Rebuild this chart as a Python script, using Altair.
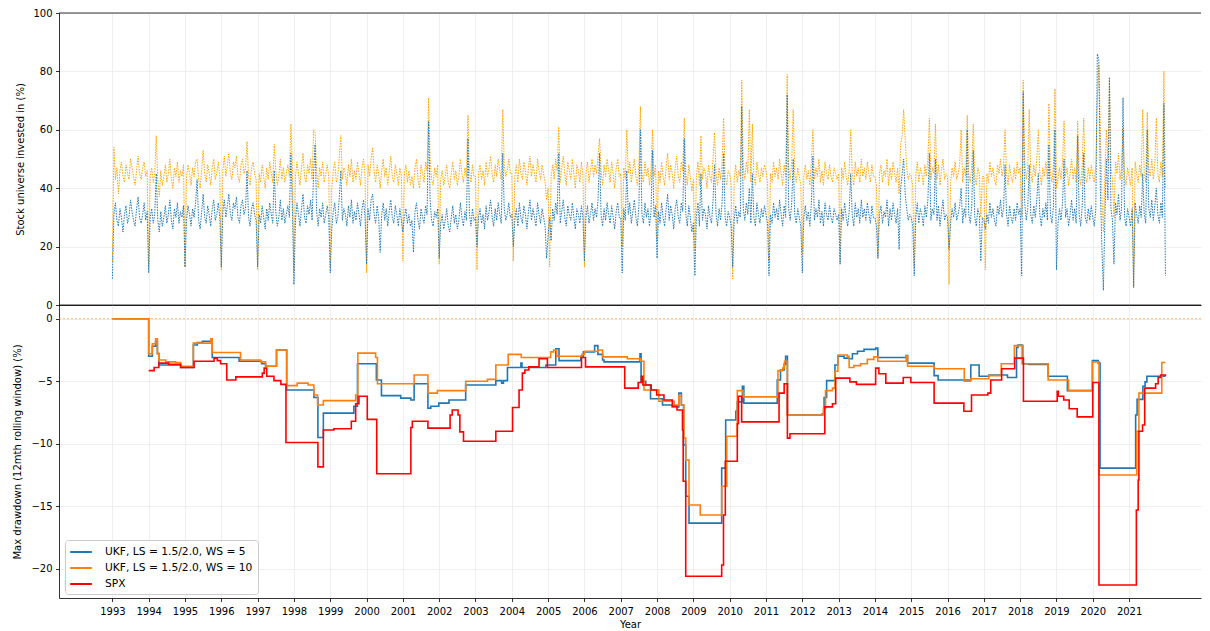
import altair as alt
import pandas as pd

FONT = "DejaVu Sans"
YEARS = list(range(1993, 2022))

# ---------------- top panel: share of stock universe invested (%), twice a month from Jan 1993 ----------------
invested_ws5 = [
    9, 31, 35, 29, 27, 33, 30, 25, 31, 34, 28, 30, 36, 32, 29, 27, 33, 37, 30, 28, 31, 35, 29, 32,   # 1993
    11, 30, 33, 28, 31, 45, 29, 25, 32, 27, 30, 34, 28, 31, 36, 29, 26, 33, 30, 35, 28, 32, 30, 34,  # 1994
    13, 29, 34, 31, 27, 33, 30, 35, 43, 29, 26, 32, 38, 30, 28, 34, 31, 27, 33, 36, 29, 31, 35, 30,  # 1995
    13, 32, 36, 30, 34, 38, 31, 29, 35, 33, 37, 30, 28, 34, 36, 31, 33, 46, 30, 27, 33, 35, 31, 29,  # 1996
    13, 31, 28, 34, 30, 26, 33, 29, 35, 31, 28, 46, 32, 27, 30, 36, 29, 33, 28, 31, 34, 30, 52, 33,  # 1997
    7, 29, 35, 31, 27, 33, 38, 30, 28, 34, 31, 36, 29, 45, 55, 32, 27, 33, 30, 35, 28, 31, 34, 30,   # 1998
    11, 26, 32, 35, 28, 30, 37, 46, 29, 33, 31, 27, 34, 30, 36, 28, 32, 29, 35, 31, 27, 33, 36, 30,  # 1999
    14, 33, 29, 36, 38, 31, 28, 34, 30, 18, 31, 35, 29, 33, 27, 32, 36, 30, 28, 34, 31, 27, 33, 29,  # 2000
    25, 30, 33, 28, 31, 27, 29, 18, 32, 35, 29, 26, 33, 30, 28, 34, 31, 63, 36, 29, 27, 32, 30, 33,  # 2001
    16, 28, 31, 26, 29, 33, 27, 25, 30, 34, 28, 31, 26, 29, 35, 30, 27, 32, 29, 57, 31, 27, 33, 29,  # 2002
    30, 20, 30, 33, 28, 31, 26, 34, 29, 32, 36, 30, 27, 33, 29, 35, 31, 28, 52, 33, 29, 31, 35, 30,  # 2003
    31, 20, 29, 33, 27, 35, 30, 28, 34, 31, 26, 32, 36, 29, 33, 30, 27, 35, 31, 28, 33, 30, 27, 16,  # 2004
    24, 30, 22, 33, 29, 35, 31, 52, 28, 32, 36, 30, 27, 34, 31, 29, 35, 30, 26, 33, 31, 28, 34, 30,  # 2005
    15, 30, 34, 28, 31, 35, 29, 33, 30, 36, 52, 31, 27, 33, 29, 35, 31, 28, 34, 30, 26, 32, 35, 30,  # 2006
    30, 11, 33, 29, 46, 31, 35, 28, 32, 36, 30, 27, 34, 60, 31, 28, 35, 30, 33, 27, 32, 53, 30, 34,  # 2007
    16, 32, 28, 35, 30, 27, 33, 38, 29, 34, 31, 26, 33, 36, 30, 28, 35, 32, 57, 31, 27, 34, 30, 25,  # 2008
    28, 10, 30, 35, 27, 45, 29, 33, 31, 26, 34, 30, 28, 36, 48, 31, 27, 33, 29, 35, 52, 30, 27, 32,  # 2009
    30, 27, 13, 29, 34, 28, 32, 30, 68, 33, 29, 35, 31, 40, 28, 45, 30, 27, 35, 31, 28, 33, 30, 34,  # 2010
    31, 28, 10, 31, 28, 35, 30, 33, 29, 36, 31, 27, 34, 30, 72, 33, 29, 35, 50, 31, 28, 33, 30, 27,  # 2011
    11, 30, 34, 29, 32, 27, 35, 51, 29, 33, 30, 36, 28, 32, 27, 35, 31, 29, 34, 30, 28, 33, 31, 29,  # 2012
    31, 14, 33, 29, 35, 30, 27, 32, 45, 31, 27, 35, 30, 33, 28, 36, 30, 33, 29, 35, 31, 28, 34, 30,  # 2013
    30, 27, 16, 31, 34, 28, 32, 30, 36, 27, 33, 29, 35, 31, 28, 33, 19, 40, 45, 50, 38, 33, 29, 31,  # 2014
    30, 27, 10, 30, 35, 28, 33, 31, 27, 34, 30, 36, 52, 29, 33, 31, 50, 29, 34, 27, 32, 36, 29, 31,  # 2015
    30, 19, 28, 33, 30, 35, 29, 31, 34, 40, 28, 33, 30, 60, 31, 28, 34, 53, 30, 27, 33, 31, 15, 30,  # 2016
    29, 26, 31, 28, 35, 30, 33, 29, 27, 34, 31, 36, 30, 33, 48, 31, 27, 34, 30, 28, 33, 29, 35, 31,  # 2017
    33, 10, 73, 35, 29, 33, 48, 31, 28, 34, 30, 36, 45, 31, 27, 33, 30, 35, 29, 55, 31, 28, 34, 60,  # 2018
    12, 28, 33, 29, 35, 50, 30, 33, 27, 31, 36, 29, 33, 28, 58, 31, 27, 34, 52, 30, 28, 33, 29, 34,  # 2019
    30, 27, 33, 86, 84, 40, 20, 5, 30, 50, 36, 78, 33, 29, 14, 35, 31, 38, 29, 33, 71, 30, 27, 33,   # 2020
    30, 27, 33, 6, 35, 31, 28, 34, 30, 45, 31, 28, 60, 33, 30, 36, 29, 34, 40, 31, 28, 35, 30, 69,   # 2021
    10,                                                                                              # 2022
]
invested_ws10 = [
    15, 54, 43, 47, 38, 46, 49, 44, 42, 48, 45, 43, 50, 47, 44, 41, 46, 51, 45, 43, 47, 49, 44, 46,  # 1993
    13, 44, 47, 42, 45, 58, 43, 37, 46, 41, 44, 48, 42, 45, 50, 43, 40, 47, 44, 49, 42, 46, 44, 48,  # 1994
    13, 44, 48, 45, 41, 47, 44, 49, 50, 43, 40, 46, 53, 45, 42, 48, 45, 41, 47, 50, 43, 45, 49, 44,  # 1995
    12, 46, 51, 44, 48, 52, 45, 43, 49, 47, 51, 44, 42, 48, 50, 45, 47, 56, 44, 41, 47, 49, 45, 43,  # 1996
    12, 45, 42, 48, 44, 40, 47, 43, 49, 45, 42, 55, 46, 41, 44, 50, 43, 47, 42, 45, 48, 44, 62, 47,  # 1997
    11, 44, 49, 45, 41, 47, 52, 44, 42, 48, 45, 50, 43, 60, 59, 46, 40, 47, 44, 49, 42, 45, 48, 44,  # 1998
    13, 40, 46, 49, 42, 44, 51, 58, 43, 47, 45, 41, 48, 44, 50, 42, 46, 43, 49, 45, 41, 47, 50, 44,  # 1999
    11, 48, 44, 50, 54, 46, 42, 48, 45, 40, 46, 50, 44, 47, 41, 46, 51, 44, 42, 48, 45, 41, 47, 44,  # 2000
    15, 45, 48, 42, 46, 41, 44, 40, 47, 50, 43, 40, 48, 45, 42, 49, 46, 71, 50, 43, 41, 47, 44, 48,  # 2001
    14, 43, 46, 41, 44, 48, 42, 40, 45, 49, 43, 46, 41, 44, 50, 45, 42, 47, 44, 65, 46, 42, 48, 44,  # 2002
    44, 12, 45, 48, 43, 46, 41, 49, 44, 47, 51, 45, 42, 48, 44, 50, 46, 43, 67, 48, 44, 46, 50, 45,  # 2003
    45, 15, 44, 48, 42, 50, 45, 43, 49, 46, 41, 47, 51, 44, 48, 45, 42, 50, 46, 43, 48, 45, 42, 36,  # 2004
    40, 13, 44, 48, 43, 50, 46, 61, 42, 47, 51, 45, 41, 49, 46, 43, 50, 45, 40, 48, 46, 42, 49, 45,  # 2005
    13, 45, 49, 42, 46, 50, 44, 48, 45, 51, 57, 46, 41, 48, 44, 50, 46, 42, 49, 45, 40, 47, 50, 44,  # 2006
    45, 20, 47, 43, 60, 45, 49, 42, 46, 50, 44, 41, 48, 68, 45, 42, 49, 44, 47, 41, 46, 60, 44, 48,  # 2007
    22, 46, 42, 49, 44, 41, 47, 52, 43, 48, 45, 40, 47, 51, 44, 42, 49, 46, 64, 45, 41, 48, 44, 39,  # 2008
    43, 19, 44, 49, 41, 58, 43, 47, 45, 40, 48, 44, 42, 50, 59, 45, 41, 47, 43, 49, 64, 44, 41, 46,  # 2009
    45, 41, 9, 43, 48, 42, 46, 44, 77, 47, 43, 49, 45, 67, 42, 62, 44, 41, 49, 45, 42, 47, 44, 48,   # 2010
    46, 42, 15, 45, 42, 49, 44, 47, 43, 50, 45, 41, 48, 44, 79, 47, 43, 49, 67, 45, 42, 47, 44, 41,  # 2011
    18, 44, 48, 43, 46, 41, 49, 60, 43, 47, 44, 50, 42, 46, 41, 49, 45, 43, 48, 44, 42, 47, 45, 43,  # 2012
    45, 14, 47, 43, 49, 44, 41, 46, 60, 45, 41, 49, 44, 47, 42, 50, 44, 47, 43, 49, 45, 42, 48, 44,  # 2013
    44, 41, 16, 45, 48, 42, 46, 44, 50, 41, 47, 43, 49, 45, 42, 47, 38, 55, 58, 67, 57, 47, 43, 45,  # 2014
    44, 41, 13, 44, 49, 42, 47, 45, 41, 48, 44, 50, 64, 43, 47, 45, 62, 43, 48, 41, 46, 50, 43, 45,  # 2015
    44, 7, 42, 47, 44, 49, 43, 45, 48, 60, 42, 47, 44, 65, 45, 42, 48, 62, 44, 41, 47, 45, 30, 44,   # 2016
    44, 12, 45, 42, 49, 44, 47, 43, 41, 48, 45, 50, 44, 47, 60, 45, 41, 48, 44, 42, 47, 43, 49, 45,  # 2017
    47, 30, 77, 49, 43, 47, 67, 45, 42, 48, 44, 50, 60, 45, 41, 47, 44, 49, 43, 69, 45, 42, 48, 74,  # 2018
    40, 43, 47, 43, 49, 63, 44, 47, 41, 45, 50, 43, 47, 42, 63, 45, 41, 48, 64, 44, 42, 47, 43, 48,  # 2019
    44, 42, 48, 70, 82, 60, 38, 25, 45, 60, 49, 77, 47, 43, 30, 49, 45, 52, 43, 47, 60, 44, 41, 47,  # 2020
    44, 41, 47, 6, 49, 45, 42, 48, 44, 67, 45, 42, 66, 47, 44, 50, 43, 48, 64, 45, 42, 49, 44, 80,   # 2021
    40,                                                                                              # 2022
]

# ---------------- bottom panel: 12-month rolling max drawdown (%), step series ----------------
ukf5_t = [1993.0, 1994.0, 1994.1, 1994.19, 1994.24, 1994.28, 1994.88, 1995.23, 1995.34, 1995.48,
          1995.75, 1996.49, 1997.11, 1997.22, 1997.52, 1997.8, 1998.55, 1998.66, 1998.81, 1999.65,
          1999.75, 2000.27, 2000.41, 2000.94, 2001.22, 2001.31, 2001.69, 2001.77, 2001.99, 2002.27,
          2002.73, 2003.56, 2003.72, 2003.77, 2003.88, 2004.25, 2004.28, 2004.94, 2005.21, 2005.3,
          2005.9, 2005.97, 2006.28, 2006.37, 2006.5, 2006.54, 2007.53, 2007.56, 2007.69, 2007.82,
          2008.15, 2008.42, 2008.6, 2008.67, 2008.73, 2008.79, 2008.88, 2009.78, 2009.89, 2010.17,
          2010.21, 2010.35, 2010.39, 2011.31, 2011.4, 2011.5, 2011.54, 2011.59, 2012.55, 2012.6,
          2012.67, 2012.9, 2012.98, 2013.15, 2013.29, 2013.38, 2013.52, 2013.7, 2014.02, 2014.08,
          2014.86, 2014.9, 2015.63, 2015.74, 2016.64, 2016.87, 2017.14, 2017.65, 2017.9, 2017.94,
          2018.06, 2018.24, 2018.77, 2019.3, 2019.99, 2020.15, 2020.2, 2021.18, 2021.22, 2021.38,
          2021.44, 2021.49, 2022.0]
ukf5_v = [0.0, -3.0, -2.2, -1.8, -2.8, -3.7, -3.9, -2.1, -1.9, -1.8,
          -3.1, -3.4, -3.6, -3.8, -2.5, -5.7, -6.3, -9.5, -7.55, -7.0,
          -3.6, -4.9, -6.15, -6.35, -6.5, -5.2, -7.15, -7.0, -6.75, -6.5,
          -5.3, -4.95, -5.15, -4.95, -3.9, -3.55, -3.9, -3.7, -2.4, -3.35,
          -3.0, -2.65, -2.15, -2.85, -3.3, -3.45, -2.8, -5.0, -5.3, -6.4,
          -6.9, -7.05, -5.95, -6.9, -10.1, -14.2, -16.35, -11.95, -8.1, -7.4,
          -6.65, -5.4, -6.75, -4.9, -4.1, -3.65, -3.0, -7.7, -7.6, -6.3,
          -4.95, -3.7, -3.0, -3.15, -3.2, -2.8, -2.6, -2.45, -2.35, -3.1,
          -2.95, -3.55, -4.55, -4.9, -3.7, -4.6, -4.5, -4.7, -2.3, -2.1,
          -3.6, -3.65, -4.6, -5.75, -3.35, -3.55, -11.95, -7.7, -6.45, -5.4,
          -5.05, -4.6, -4.6]

ukf10_t = [1993.0, 1994.0, 1994.1, 1994.19, 1994.24, 1994.28, 1994.47, 1994.74, 1994.88, 1995.23,
           1995.71, 1995.75, 1996.53, 1997.08, 1997.22, 1997.52, 1997.8, 1998.09, 1998.39, 1998.55,
           1998.65, 1998.81, 1999.7, 1999.76, 2000.25, 2000.3, 2001.31, 2001.69, 2001.95, 2002.73,
           2003.33, 2003.56, 2003.9, 2004.26, 2005.07, 2005.15, 2005.24, 2005.93, 2006.0, 2006.38,
           2006.5, 2007.18, 2007.55, 2007.64, 2008.05, 2008.47, 2008.6, 2008.67, 2008.74, 2008.79,
           2008.88, 2009.19, 2009.78, 2009.92, 2010.21, 2010.37, 2011.33, 2011.46, 2011.51, 2011.59,
           2012.58, 2012.64, 2012.83, 2012.9, 2012.98, 2013.24, 2013.29, 2013.42, 2013.61, 2013.79,
           2013.97, 2014.08, 2014.86, 2014.9, 2015.63, 2016.46, 2016.64, 2017.14, 2017.48, 2017.84,
           2018.08, 2018.77, 2019.33, 2019.99, 2020.17, 2021.21, 2021.27, 2021.9, 2022.0]
ukf10_v = [0.0, -2.8, -2.0, -1.6, -2.75, -3.3, -3.45, -3.5, -3.8, -1.95,
           -1.6, -2.7, -3.3, -3.45, -3.8, -2.5, -5.35, -5.15, -5.3, -6.1,
           -6.9, -6.55, -6.1, -2.75, -3.1, -5.2, -4.5, -5.95, -5.75, -5.0,
           -4.85, -3.7, -2.85, -3.1, -2.65, -2.5, -3.0, -2.85, -2.6, -2.5,
           -3.05, -3.2, -3.4, -5.7, -6.6, -6.9, -6.15, -6.9, -9.55, -11.3,
           -14.9, -15.7, -13.4, -9.4, -5.75, -6.25, -4.15, -3.95, -3.4, -7.7,
           -7.15, -5.75, -5.55, -4.2, -2.9, -3.0, -3.9, -3.75, -3.6, -3.25,
           -3.05, -3.4, -2.95, -3.8, -4.0, -5.0, -4.8, -4.55, -3.6, -2.15,
           -3.6, -4.9, -5.75, -3.45, -12.5, -9.0, -5.95, -3.5, -3.5]

spx_t = [1994.0, 1994.15, 1994.28, 1994.55, 1994.88, 1995.25, 1995.8, 1995.89, 1995.98, 1996.15,
         1996.4, 1997.13, 1997.18, 1997.25, 1997.45, 1997.64, 1997.78, 1998.66, 1998.81, 1999.1,
         1999.58, 1999.7, 1999.79, 2000.02, 2000.28, 2001.22, 2001.26, 2001.69, 2002.3, 2002.36,
         2002.52, 2002.57, 2002.67, 2003.56, 2004.02, 2004.2, 2004.29, 2004.36, 2004.47, 2004.75,
         2004.98, 2005.92, 2006.03, 2007.11, 2007.48, 2007.57, 2007.61, 2007.84, 2007.99, 2008.19,
         2008.42, 2008.55, 2008.7, 2008.72, 2008.79, 2009.78, 2009.83, 2009.88, 2010.21, 2010.24,
         2010.33, 2011.36, 2011.5, 2011.59, 2011.66, 2012.62, 2012.83, 2012.92, 2013.31, 2013.49,
         2014.02, 2014.11, 2014.3, 2014.78, 2014.99, 2015.63, 2016.45, 2016.66, 2017.11, 2017.19,
         2017.49, 2017.85, 2018.09, 2019.02, 2019.05, 2019.2, 2019.35, 2019.57, 2020.0, 2020.17,
         2021.2, 2021.25, 2021.27, 2021.37, 2021.43, 2021.73, 2021.8, 2021.87, 2022.0]
spx_v = [-4.15, -3.9, -3.55, -3.65, -3.9, -3.4, -3.15, -3.35, -3.6, -4.9,
         -4.65, -4.35, -3.95, -4.6, -4.95, -5.25, -9.9, -11.85, -8.9, -8.8,
         -8.2, -6.8, -6.2, -8.05, -12.4, -8.7, -8.2, -8.75, -7.7, -7.3,
         -7.7, -9.05, -9.8, -9.0, -7.1, -5.7, -4.35, -4.1, -3.85, -3.2,
         -3.9, -3.1, -3.85, -5.55, -5.1, -4.6, -5.3, -5.7, -6.1, -6.5,
         -7.0, -7.3, -8.9, -13.0, -20.6, -19.7, -15.7, -11.4, -8.4, -6.2,
         -8.25, -5.95, -5.2, -9.55, -9.2, -7.05, -6.8, -4.75, -5.05, -5.25,
         -3.95, -4.4, -5.15, -4.7, -5.1, -6.75, -7.4, -6.1, -5.95, -4.9,
         -4.0, -3.15, -6.6, -5.8, -6.2, -6.5, -7.2, -7.85, -5.1, -21.3,
         -15.3, -12.9, -9.0, -8.5, -5.55, -5.2, -4.7, -4.5, -4.6]

SERIES = ["UKF, LS = 1.5/2.0, WS = 5", "UKF, LS = 1.5/2.0, WS = 10", "SPX"]
COLORS = ["#1f77b4", "#ff7f0e", "#ff0000"]

# ---------------- tables ----------------
half_months = [1993 + i / 24 for i in range(len(invested_ws5))]
top_df = pd.concat([
    pd.DataFrame({"t": half_months, "v": invested_ws5, "s": "ws5"}),
    pd.DataFrame({"t": half_months, "v": invested_ws10, "s": "ws10"}),
])
dd_df = pd.concat([
    pd.DataFrame({"t": ukf5_t, "v": ukf5_v, "series": SERIES[0]}),
    pd.DataFrame({"t": ukf10_t, "v": ukf10_v, "series": SERIES[1]}),
    pd.DataFrame({"t": spx_t, "v": spx_v, "series": SERIES[2]}),
])

W = 1142
xscale = alt.Scale(domain=[1991.53, 2022.98], nice=False, zero=False)

# ---------------- top panel ----------------
top_base = alt.Chart(top_df)
top_x = alt.X("t:Q", scale=xscale,
              axis=alt.Axis(values=YEARS, labels=False, ticks=False, grid=True, title=None))
top_y = alt.Y("v:Q", scale=alt.Scale(domain=[0, 100], nice=False),
              axis=alt.Axis(values=[0, 20, 40, 60, 80, 100], title="Stock universe invested in (%)",
                            titlePadding=7, grid=True))
blue_top = top_base.transform_filter(alt.datum.s == "ws5").mark_line(
    color="#1f77b4", strokeWidth=1, strokeDash=[1.5, 1.2]
).encode(x=top_x, y=top_y)
orange_top = top_base.transform_filter(alt.datum.s == "ws10").mark_line(
    color="#ffa500", strokeWidth=1, strokeDash=[1.5, 1.2]
).encode(x=top_x, y=top_y)
top_spine = alt.Chart(pd.DataFrame({"k": [0]})).mark_rule(color="black", strokeWidth=0.8).encode(
    y=alt.value(0))
top = alt.layer(orange_top, blue_top, top_spine).properties(width=W, height=292)

# ---------------- bottom panel ----------------
bot_x = alt.X("t:Q", scale=xscale,
              axis=alt.Axis(values=YEARS, format="d", title="Year", grid=True,
                            labelPadding=4.5, titlePadding=3))
bot_y = alt.Y("v:Q", scale=alt.Scale(domain=[-22.34, 1.1], nice=False),
              axis=alt.Axis(values=[0, -5, -10, -15, -20], title="Max drawdown (12mth rolling window) (%)",
                            titlePadding=8, grid=True))
color = alt.Color("series:N", scale=alt.Scale(domain=SERIES, range=COLORS),
                  legend=alt.Legend(orient="none", legendX=6, legendY=527, title=None,
                                    symbolType="M-1.8,0L1.8,0", symbolSize=144, symbolStrokeWidth=2,
                                    symbolOffset=4,
                                    labelFont=FONT, labelFontSize=10.7, labelColor="#000",
                                    fillColor="white", strokeColor="#cccccc", cornerRadius=3,
                                    padding=5, rowPadding=4, labelOffset=17))
dd_base = alt.Chart(dd_df)
dd_layers = [
    dd_base.transform_filter(alt.datum.series == name).mark_line(
        interpolate="step-after", strokeWidth=1.6
    ).encode(x=bot_x, y=bot_y, color=color)
    for name in SERIES
]
zero_line = alt.Chart(pd.DataFrame({"z": [0]})).mark_rule(
    color="#ff7f0e", strokeWidth=0.7, strokeDash=[2, 2], opacity=0.8
).encode(y=alt.Y("z:Q", scale=alt.Scale(domain=[-22.34, 1.1], nice=False)))
bot_spine = alt.Chart(pd.DataFrame({"k": [0]})).mark_rule(color="black", strokeWidth=0.8).encode(
    y=alt.value(0))
bottom = alt.layer(zero_line, *dd_layers, bot_spine).properties(width=W, height=293)

chart = alt.vconcat(top, bottom, spacing=0, bounds="flush").properties(
    padding={"left": 4, "top": 0, "right": 0, "bottom": 0}
).configure_view(stroke=None).configure_axis(
    labelFont=FONT, titleFont=FONT, labelFontSize=10, titleFontSize=10,
    labelColor="#000000", titleColor="#000000", titleFontWeight="normal",
    tickColor="#000000", tickWidth=0.8, tickSize=3.5, labelPadding=3.5,
    domainColor="#000000", domainWidth=0.8,
    gridColor="#ebebeb", gridWidth=0.8,
)

chart.save("out.html", embed_options={"renderer": "svg", "actions": False})
